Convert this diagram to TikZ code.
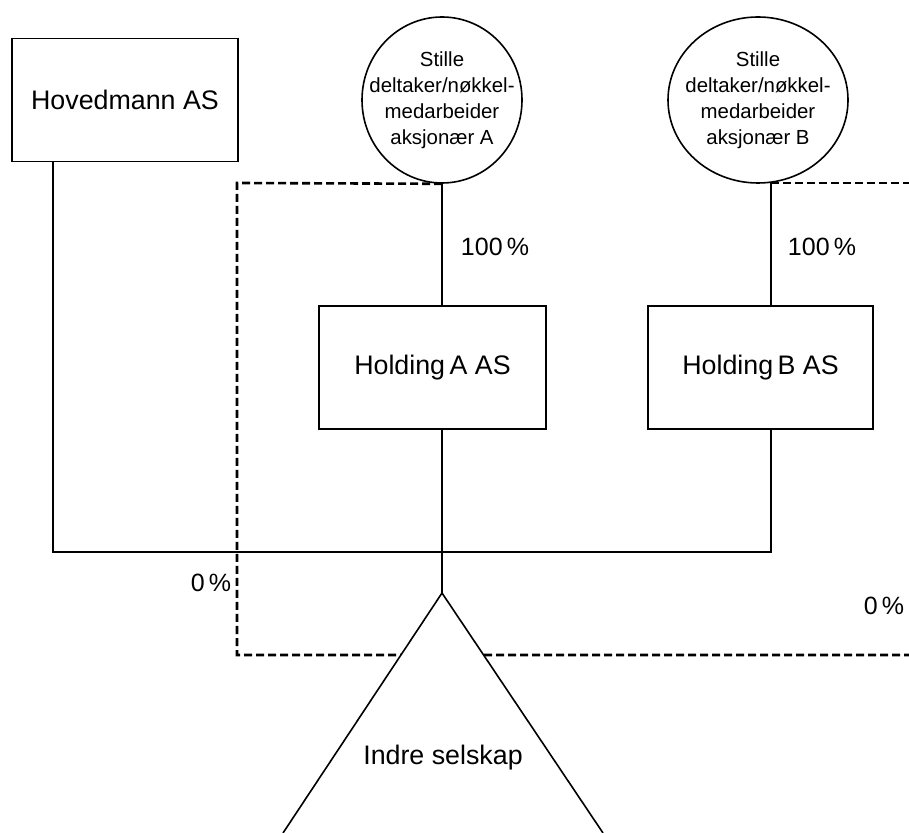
\documentclass[tikz,border=0pt]{standalone}
\usepackage{fontspec}
\setmainfont{Liberation Sans}
\usepackage{tikz}
\usetikzlibrary{shapes.geometric,positioning}

\begin{document}
\begin{tikzpicture}[x=0.5pt,y=-0.5pt,font=\fontsize{13.4}{16}\selectfont,
  firm/.style={draw,line width=0.8pt,inner sep=0pt,minimum height=61.5pt},
  owner/.style={ellipse,draw,line width=0.8pt,inner sep=0pt,minimum height=83pt},
  ownertext/.style={align=center,inner sep=0pt,font=\fontsize{10.2}{13}\selectfont},
  link/.style={line width=0.8pt},
  boundary/.style={line width=1.3pt,dash pattern=on 4pt off 2pt},
  share/.style={font=\fontsize{12.5}{15}\selectfont}]
  \useasboundingbox (0,0) rectangle (909,833);

  % Owners
  \node[firm,minimum width=113pt] (boss) at (125,100) {Hovedmann AS};
  \node[owner,minimum width=80pt] (ownA) at (442,100) {};
  \node[ownertext] (ownAtext) at (ownA) {Stille\\deltaker/nøkkel-\\medarbeider\\aksjonær A};
  \node[owner,minimum width=90pt] (ownB) at (758,100) {};
  \node[ownertext] (ownBtext) at (ownB) {Stille\\deltaker/nøkkel-\\medarbeider\\aksjonær B};
  \coordinate (ownBfoot) at (771,183);

  % Holding companies
  \node[firm,minimum width=113.5pt] (holdA) at (432.5,367.5) {Holding\,A AS};
  \node[firm,minimum width=112.5pt] (holdB) at (760.5,367.5) {Holding\,B AS};

  % Ownership lines
  \coordinate (busL) at (53,552);
  \coordinate (busR) at (771,552);
  \coordinate (apex) at (442,593);
  \draw[link] (ownA.south) -- (ownA.south |- holdA.north);
  \draw[link] (ownBfoot) -- (ownBfoot |- holdB.north);
  \draw[link] (holdA.south -| apex) -- (apex);
  \draw[link] (boss.south -| busL) -- (busL) -- (busR) -- (busR |- holdB.south);

  % Dashed boundary
  \draw[boundary] (ownA.south) -- (237,183) -- (237,655) -- (909,655);
  \draw[boundary] (ownBfoot) -- (909,183);

  % Inner company
  \filldraw[fill=white,line width=0.8pt] (283,833) -- (apex) -- (603,833);
  \node (inner) at (443,758) {Indre selskap};

  % Shares
  \node[share] (pctA) at (495,247) {100\,\%};
  \node[share] (pctB) at (822,247) {100\,\%};
  \node[share] (pctL) at (211,583) {0\,\%};
  \node[share] (pctR) at (884,606) {0\,\%};
\end{tikzpicture}
\end{document}
